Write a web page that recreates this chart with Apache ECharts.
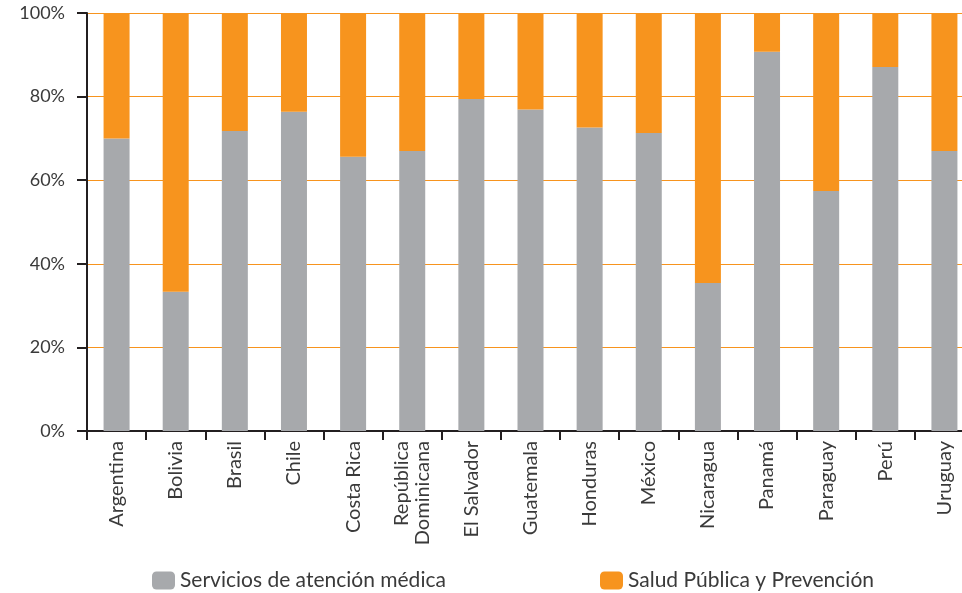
<!DOCTYPE html>
<html>
<head>
<meta charset="utf-8">
<script src="https://cdn.jsdelivr.net/npm/echarts@6/dist/echarts.min.js"></script>
<style>
  html, body { margin: 0; padding: 0; background: #fff; }
  #chart { width: 962px; height: 593px; }
</style>
</head>
<body>
<div id="chart"></div>
<script>
// countries on the x axis
var countries = ['Argentina', 'Bolivia', 'Brasil', 'Chile', 'Costa Rica', 'República\nDominicana',
  'El Salvador', 'Guatemala', 'Honduras', 'México', 'Nicaragua', 'Panamá', 'Paraguay', 'Perú', 'Uruguay'];
// share of spending (%)
var servicios = [70, 33.3, 71.8, 76.4, 65.6, 67, 79.4, 76.9, 72.6, 71.3, 35.4, 90.7, 57.4, 87.1, 67];
var saludPublica = [30, 66.7, 28.2, 23.6, 34.4, 33, 20.6, 23.1, 27.4, 28.7, 64.6, 9.3, 42.6, 12.9, 33];
var yTicks = [0, 20, 40, 60, 80, 100];

var nameServ = 'Servicios de atención médica';
var nameSalud = 'Salud Pública y Prevención';

var textColor = '#3a3a3a';
var axisColor = '#231f20';
var fontFam = 'Lato, "Open Sans", sans-serif';

var myChart = echarts.init(document.getElementById('chart'));
var option = {
  animation: false,
  textStyle: { fontFamily: fontFam },
  // plot area runs a bit past the right edge of the picture, like the original
  grid: { left: 87, top: 13, bottom: 162, width: 887, containLabel: false, outerBoundsMode: 'none' },
  legend: [
    {
      data: [nameServ], left: 152, top: 570, padding: 0, itemWidth: 23, itemHeight: 18, itemGap: 10,
      textStyle: { fontSize: 21, color: textColor, fontFamily: fontFam }
    },
    {
      data: [nameSalud], left: 600, top: 570, padding: 0, itemWidth: 23, itemHeight: 18, itemGap: 10,
      textStyle: { fontSize: 21, color: textColor, fontFamily: fontFam }
    }
  ],
  xAxis: {
    type: 'category',
    data: countries,
    axisLine: { lineStyle: { color: axisColor, width: 2 } },
    axisTick: { show: true, length: 9, lineStyle: { color: axisColor, width: 2 } },
    axisLabel: {
      interval: 0, rotate: 90, margin: 10, fontSize: 20, color: textColor,
      fontFamily: fontFam, lineHeight: 21
    }
  },
  yAxis: {
    type: 'value',
    min: yTicks[0],
    max: yTicks[yTicks.length - 1],
    interval: 20,
    axisLine: { show: true, lineStyle: { color: axisColor, width: 2 } },
    axisTick: { show: true, length: 10, lineStyle: { color: axisColor, width: 2 } },
    axisLabel: { formatter: '{value}%', fontSize: 18, color: textColor, margin: 22, fontFamily: fontFam },
    splitLine: { show: true, lineStyle: { color: '#f7941e', width: 1.2 } }
  },
  series: [
    {
      name: nameServ, type: 'bar', stack: 'total', data: servicios,
      barWidth: 26, itemStyle: { color: '#a7a9ac' }
    },
    {
      name: nameSalud, type: 'bar', stack: 'total', data: saludPublica,
      barWidth: 26, itemStyle: { color: '#f7941e' }
    }
  ]
};
myChart.setOption(option);
</script>
</body>
</html>
